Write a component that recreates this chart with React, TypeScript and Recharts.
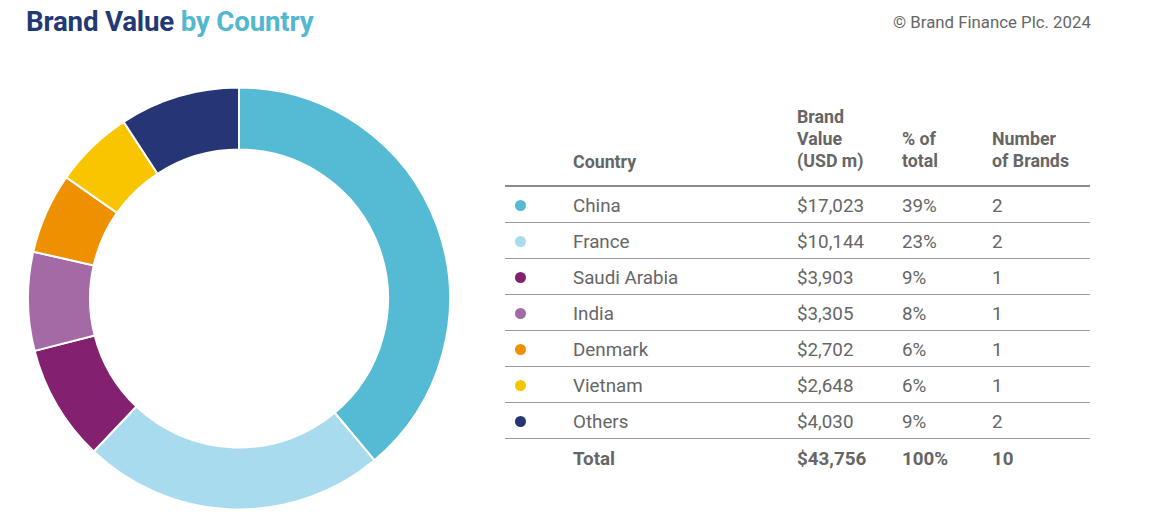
import { PieChart, Pie, Cell } from 'recharts'

const countries = ['China', 'France', 'Saudi Arabia', 'India', 'Denmark', 'Vietnam', 'Others']
const brandValues = [17023, 10144, 3903, 3305, 2702, 2648, 4030]
const shares = ['39%', '23%', '9%', '8%', '6%', '6%', '9%']
const brandCounts = [2, 2, 1, 1, 1, 1, 2]
const colors = ['#55BBD4', '#A9DBEF', '#83206F', '#A46AA6', '#EE9101', '#F8C500', '#263575']
const totalRow = { label: 'Total', value: '$43,756', share: '100%', count: 10 }

const FONT = 'Roboto, "Noto Sans", sans-serif'
const GREY = '#666666'

const data = countries.map((name, i) => ({ name, value: brandValues[i] }))
const fmt = (v: number) => '$' + v.toLocaleString('en-US')

const COL = { dot: 520, country: 573, value: 797, share: 902, count: 992 }
const TABLE_LEFT = 505
const TABLE_RIGHT = 1090
const HEADER_LINE = 186
const ROW_H = 36

export default function App() {
  return (
    <div style={{ position: 'fixed', left: 0, top: 0, width: 1150, height: 517, background: '#fff', fontFamily: FONT, overflow: 'hidden' }}>
      <div style={{ position: 'absolute', left: 26, top: 5, fontSize: 27.7, fontWeight: 700, color: '#1F3A75', letterSpacing: -0.2 }}>
        Brand Value <span style={{ color: '#52B8D0' }}>by Country</span>
      </div>
      <div style={{ position: 'absolute', left: 893, top: 12, fontSize: 16.8, color: GREY }}>
        © Brand Finance Plc. 2024
      </div>

      <div style={{ position: 'absolute', left: 0, top: 0 }}>
        <PieChart width={480} height={517} margin={{ top: 0, right: 0, bottom: 0, left: 0 }}>
          <Pie
            data={data}
            dataKey="value"
            nameKey="name"
            cx={239}
            cy={298.5}
            innerRadius={149}
            outerRadius={211}
            startAngle={90}
            endAngle={-270}
            stroke="#fff"
            strokeWidth={2}
            isAnimationActive={false}
          >
            {data.map((d, i) => (
              <Cell key={d.name} fill={colors[i]} />
            ))}
          </Pie>
        </PieChart>
      </div>

      {/* table header */}
      <div style={{ position: 'absolute', top: 106, left: 0, fontSize: 17.8, fontWeight: 700, color: GREY, lineHeight: '22px' }}>
        <div style={{ position: 'absolute', left: COL.country, top: 45, whiteSpace: 'nowrap' }}>Country</div>
        <div style={{ position: 'absolute', left: COL.value, top: 0, whiteSpace: 'nowrap' }}>Brand<br />Value<br />(USD m)</div>
        <div style={{ position: 'absolute', left: COL.share, top: 22, whiteSpace: 'nowrap' }}>% of<br />total</div>
        <div style={{ position: 'absolute', left: COL.count, top: 22, whiteSpace: 'nowrap' }}>Number<br />of Brands</div>
      </div>
      <div style={{ position: 'absolute', left: TABLE_LEFT, top: HEADER_LINE - 1, width: TABLE_RIGHT - TABLE_LEFT, height: 1.5, background: '#8a8a8a' }} />

      {countries.map((c, i) => {
        const top = HEADER_LINE + i * ROW_H
        return (
          <div key={c} style={{ position: 'absolute', left: 0, top, height: ROW_H, width: 1150, fontSize: 18.8, color: GREY }}>
            <div style={{ position: 'absolute', left: COL.dot - 5, top: ROW_H / 2 - 4, width: 11, height: 11, borderRadius: '50%', background: colors[i] }} />
            <div style={{ position: 'absolute', left: COL.country, top: 8.5 }}>{c}</div>
            <div style={{ position: 'absolute', left: COL.value, top: 8.5 }}>{fmt(brandValues[i])}</div>
            <div style={{ position: 'absolute', left: COL.share, top: 8.5 }}>{shares[i]}</div>
            <div style={{ position: 'absolute', left: COL.count, top: 8.5 }}>{brandCounts[i]}</div>
            <div style={{ position: 'absolute', left: TABLE_LEFT, top: ROW_H - 0.5, width: TABLE_RIGHT - TABLE_LEFT, height: 1, background: '#9a9a9a' }} />
          </div>
        )
      })}

      <div style={{ position: 'absolute', left: 0, top: HEADER_LINE + countries.length * ROW_H, height: ROW_H, width: 1150, fontSize: 18.8, fontWeight: 700, color: GREY }}>
        <div style={{ position: 'absolute', left: COL.country, top: 9.5 }}>{totalRow.label}</div>
        <div style={{ position: 'absolute', left: COL.value, top: 9.5 }}>{totalRow.value}</div>
        <div style={{ position: 'absolute', left: COL.share, top: 9.5 }}>{totalRow.share}</div>
        <div style={{ position: 'absolute', left: COL.count, top: 9.5 }}>{totalRow.count}</div>
      </div>
    </div>
  )
}
